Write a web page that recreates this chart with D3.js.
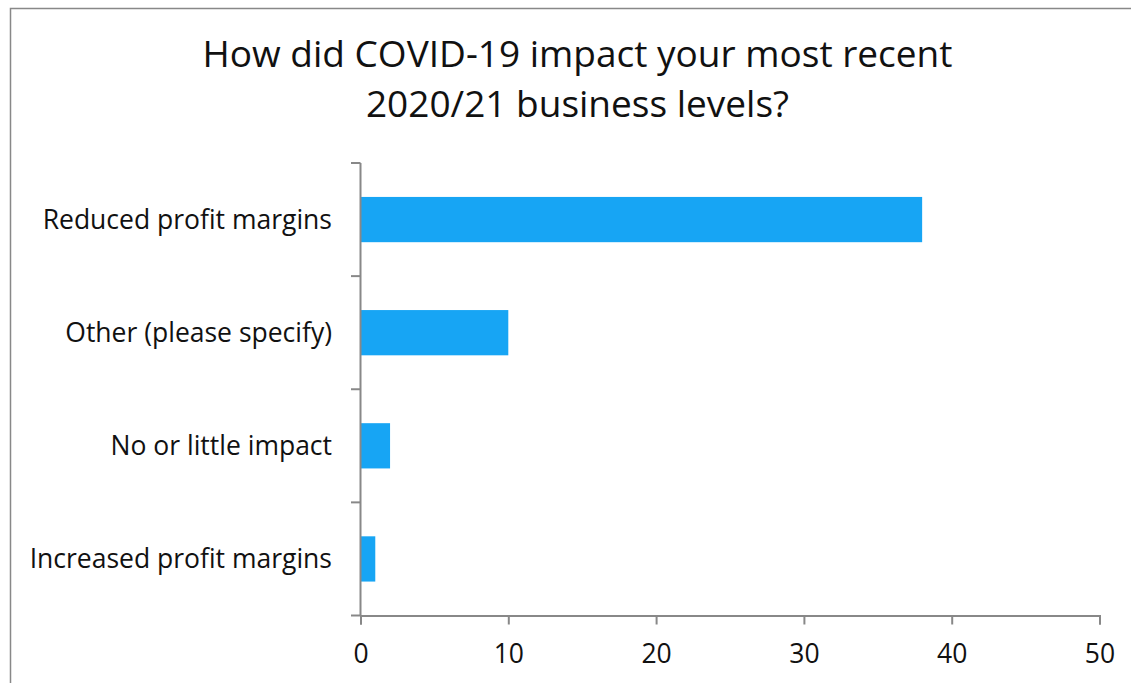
<!DOCTYPE html>
<html><head><meta charset="utf-8">
<script src="https://cdn.jsdelivr.net/npm/d3@7"></script>
<style>body{margin:0;background:#fff}svg{display:block}text{font-family:"Open Sans",sans-serif;fill:#111}</style>
</head><body><svg id="c" width="1131" height="683"></svg>
<script>
const categories = ["Reduced profit margins","Other (please specify)","No or little impact","Increased profit margins"];
const values = [38, 10, 2, 1];
const xTicks = [0, 10, 20, 30, 40, 50];
const titleLines = ["How did COVID-19 impact your most recent","2020/21 business levels?"];

const svg = d3.select("#c");
svg.append("rect").attr("x",10.5).attr("y",8.5).attr("width",1140).attr("height",700)
  .attr("fill","none").attr("stroke","#888").attr("stroke-width",1.5);

const x = d3.scaleLinear().domain([0,50]).range([360.5,1099.5]);
const y = d3.scaleBand().domain(categories).range([163,615.5]).paddingInner(0.6).paddingOuter(0.3);

svg.selectAll("rect.bar").data(values).join("rect").attr("class","bar")
  .attr("x",x(0)).attr("y",(d,i)=>y(categories[i]))
  .attr("width",d=>x(d)-x(0)).attr("height",y.bandwidth()).attr("fill","#17a5f4");

// y axis with boundary ticks
const yb = d3.scaleLinear().domain([0,categories.length]).range([163,615.5]);
const ay = svg.append("g");
ay.append("line").attr("x1",360.5).attr("x2",360.5).attr("y1",163).attr("y2",615.5).attr("stroke","#888").attr("stroke-width",2);
ay.selectAll("line.t").data(d3.range(categories.length+1)).join("line").attr("class","t")
  .attr("x1",351).attr("x2",360.5).attr("y1",d=>yb(d)).attr("y2",d=>yb(d)).attr("stroke","#888").attr("stroke-width",2);
ay.selectAll("text").data(categories).join("text")
  .attr("x",332).attr("y",d=>y(d)+y.bandwidth()/2+9).attr("text-anchor","end")
  .attr("font-size",26.5).text(d=>d);

// x axis
const ax = svg.append("g").attr("transform","translate(0,615.5)");
ax.call(d3.axisBottom(x).tickValues(xTicks).tickSize(9).tickSizeOuter(9).tickPadding(20));
ax.select(".domain").attr("stroke","#888").attr("stroke-width",2);
ax.selectAll(".tick line").attr("stroke","#888").attr("stroke-width",2);
ax.selectAll(".tick text").attr("font-size",26.5).attr("font-family","Open Sans").attr("fill","#111");

svg.selectAll("text.title").data(titleLines).join("text").attr("class","title")
  .attr("x",577.5).attr("y",(d,i)=>67+i*50).attr("text-anchor","middle")
  .attr("font-size",37).text(d=>d);
</script></body></html>
